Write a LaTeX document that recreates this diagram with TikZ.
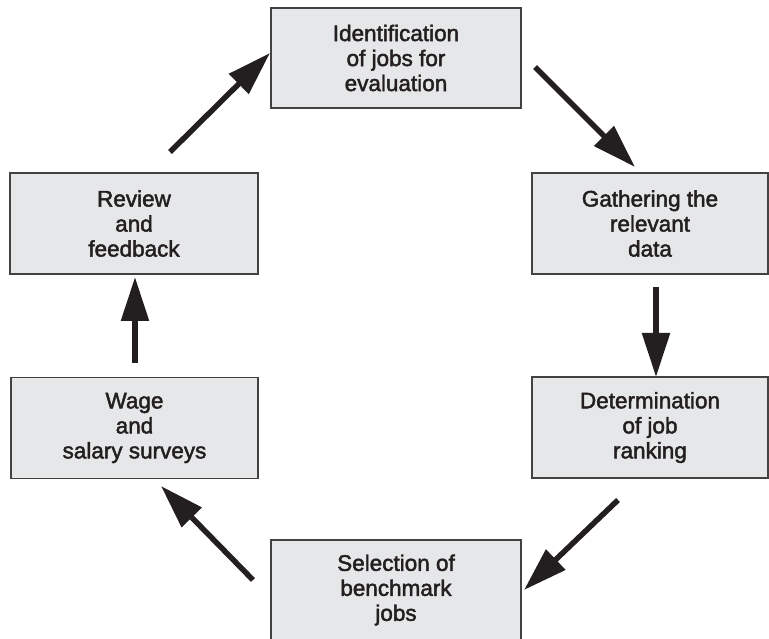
\documentclass[tikz,border=0pt]{standalone}
\usepackage{fontspec}
\setmainfont{Liberation Sans}
\newfontfamily\stagefont[FakeBold=2]{Liberation Sans}
\usetikzlibrary{arrows.meta}
\definecolor{boxfill}{HTML}{E6E7E8}
\definecolor{ink}{HTML}{231F20}
\begin{document}
\begin{tikzpicture}[x=1pt,y=-1pt,
  stage/.style={draw=ink!85, line width=1.4pt, fill=boxfill, text=ink,
    align=center, inner sep=0pt, font=\stagefont\fontsize{22.5}{25}\selectfont},
  flow/.style={draw=ink, line width=5.5pt,
    -{Triangle[length=44pt,width=27pt]}}]
\useasboundingbox (0,0) rectangle (769,639);
% process stages
\node[stage, minimum width=250pt, minimum height=100pt] (ident) at (396,58)
  {Identification\\of jobs for\\evaluation};
\node[stage, minimum width=236pt, minimum height=101pt] (gather) at (650,223.5)
  {Gathering the\\relevant\\data};
\node[stage, minimum width=236pt, minimum height=101pt] (determ) at (650,427.5)
  {Determination\\of job\\ranking};
\node[stage, minimum width=250pt, minimum height=100pt] (select) at (396,590)
  {Selection of\\benchmark\\jobs};
\node[stage, minimum width=247pt, minimum height=101pt] (wage) at (134.5,428)
  {Wage\\and\\salary surveys};
\node[stage, minimum width=248pt, minimum height=101pt] (review) at (134,223.5)
  {Review\\and\\feedback};
% arrow end points
\coordinate (r1) at (170,152);  \coordinate (i1) at (270,53);
\coordinate (i2) at (535,67);   \coordinate (g1) at (635,167);
\coordinate (g2) at (656,287);  \coordinate (d1) at (656,377);
\coordinate (d2) at (618,500);  \coordinate (s1) at (524,590);
\coordinate (s2) at (253,580);  \coordinate (w1) at (161,486);
\coordinate (w2) at (135,363);  \coordinate (v1) at (135,277);
% cycle connectors
\draw[flow] (r1) -- (i1);
\draw[flow] (i2) -- (g1);
\draw[flow] (g2) -- (d1);
\draw[flow] (d2) -- (s1);
\draw[flow] (s2) -- (w1);
\draw[flow] (w2) -- (v1);
\end{tikzpicture}
\end{document}
